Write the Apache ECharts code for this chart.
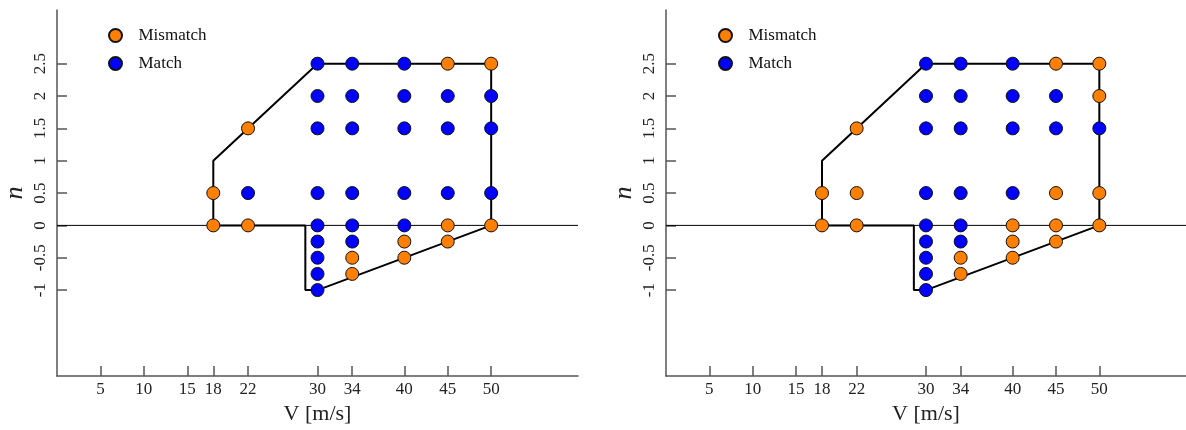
<!DOCTYPE html>
<html>
<head>
<meta charset="utf-8">
<script src="https://cdn.jsdelivr.net/npm/echarts@6/dist/echarts.min.js"></script>
<style>html,body{margin:0;padding:0;background:#fff;}#c{width:1186px;height:430px;}</style>
</head>
<body>
<div id="c"></div>
<script>
// ---- data ----
const V_TICKS = [5, 10, 15, 18, 22, 30, 34, 40, 45, 50];
const N_TICKS = [-1, -0.5, 0, 0.5, 1, 1.5, 2, 2.5];
const BOUNDARY_V = [18, 18, 30, 50, 50, 30, 28.6, 28.6, 18];
const BOUNDARY_N = [0, 1, 2.5, 2.5, 0, -1, -1, 0, 0];
const ZERO_V = [0, 60];
const ZERO_N = [0, 0];

const LEFT_MISMATCH = [[45,2.5],[50,2.5],[22,1.5],[18,0.5],[18,0],[22,0],[45,0],[50,0],
  [40,-0.25],[45,-0.25],[34,-0.5],[40,-0.5],[34,-0.75]];
const LEFT_MATCH = [[30,2.5],[34,2.5],[40,2.5],
  [30,2],[34,2],[40,2],[45,2],[50,2],
  [30,1.5],[34,1.5],[40,1.5],[45,1.5],[50,1.5],
  [22,0.5],[30,0.5],[34,0.5],[40,0.5],[45,0.5],[50,0.5],
  [30,0],[34,0],[40,0],
  [30,-0.25],[34,-0.25],[30,-0.5],[30,-0.75],[30,-1]];

const RIGHT_MISMATCH = [[45,2.5],[50,2.5],[50,2],[22,1.5],[18,0.5],[22,0.5],[45,0.5],[50,0.5],
  [18,0],[22,0],[40,0],[45,0],[50,0],
  [40,-0.25],[45,-0.25],[34,-0.5],[40,-0.5],[34,-0.75]];
const RIGHT_MATCH = [[30,2.5],[34,2.5],[40,2.5],
  [30,2],[34,2],[40,2],[45,2],
  [30,1.5],[34,1.5],[40,1.5],[45,1.5],[50,1.5],
  [30,0.5],[34,0.5],[40,0.5],
  [30,0],[34,0],
  [30,-0.25],[34,-0.25],[30,-0.5],[30,-0.75],[30,-1]];

const ORANGE = '#FF8000';
const BLUE = '#0000FF';
const FONT = 'Liberation Serif';

function zip(a, b) { return a.map((v, i) => [v, b[i]]); }

function xAxis(idx) {
  return {
    gridIndex: idx, type: 'value', min: 0, max: 60,
    name: 'V [m/s]', nameLocation: 'middle', nameGap: 20,
    nameTextStyle: { fontFamily: FONT, fontSize: 22, color: '#222' },
    axisLine: { show: true, onZero: false, lineStyle: { color: '#555', width: 1.5 } },
    axisTick: { show: true, inside: true, length: 10, customValues: V_TICKS, lineStyle: { color: '#555', width: 1.5 } },
    axisLabel: { customValues: V_TICKS, fontFamily: FONT, fontSize: 17, color: '#222', margin: 5 },
    splitLine: { show: false }
  };
}
function yAxis(idx) {
  return {
    gridIndex: idx, type: 'value', min: -2.33, max: 3.33,
    name: 'n', nameLocation: 'middle', nameGap: 29, nameRotate: 90,
    nameTextStyle: { fontFamily: FONT, fontSize: 26, fontStyle: 'italic', color: '#222' },
    axisLine: { show: true, onZero: false, lineStyle: { color: '#555', width: 1.5 } },
    axisTick: { show: true, inside: true, length: 10, customValues: N_TICKS, lineStyle: { color: '#555', width: 1.5 } },
    axisLabel: { customValues: N_TICKS, rotate: 90, fontFamily: FONT, fontSize: 17, color: '#222', margin: 8 },
    splitLine: { show: false }
  };
}
function panelSeries(idx, mism, match) {
  const common = { xAxisIndex: idx, yAxisIndex: idx };
  return [
    Object.assign({ type: 'line', data: zip(ZERO_V, ZERO_N), symbol: 'none', silent: true, z: 1,
      lineStyle: { color: '#000', width: 1 } }, common),
    Object.assign({ type: 'line', data: zip(BOUNDARY_V, BOUNDARY_N), symbol: 'none', silent: true, z: 2,
      lineStyle: { color: '#000', width: 2 } }, common),
    Object.assign({ type: 'scatter', name: 'Mismatch', data: mism, symbol: 'circle', symbolSize: 13, z: 5,
      itemStyle: { color: ORANGE, borderColor: '#111', borderWidth: 1, opacity: 1 } }, common),
    Object.assign({ type: 'scatter', name: 'Match', data: match, symbol: 'circle', symbolSize: 13, z: 5,
      itemStyle: { color: BLUE, borderColor: '#111', borderWidth: 1, opacity: 1 } }, common)
  ];
}
function legend(left) {
  return {
    data: ['Mismatch', 'Match'], orient: 'vertical', left: left, top: 27, padding: 0,
    itemWidth: 36, itemHeight: 13, itemGap: 11, icon: 'circle',
    textStyle: { fontFamily: FONT, fontSize: 17, color: '#111' },
    selectedMode: false
  };
}

const chart = echarts.init(document.getElementById('c'), null, { renderer: 'canvas' });
chart.setOption({
  animation: false,
  backgroundColor: '#fff',
  legend: [legend(108), legend(718)],
  grid: [
    { left: 57, top: 10, width: 521, height: 369 },
    { left: 666, top: 10, width: 520, height: 369 }
  ],
  xAxis: [xAxis(0), xAxis(1)],
  yAxis: [yAxis(0), yAxis(1)],
  series: [].concat(panelSeries(0, LEFT_MISMATCH, LEFT_MATCH), panelSeries(1, RIGHT_MISMATCH, RIGHT_MATCH))
});
</script>
</body>
</html>
